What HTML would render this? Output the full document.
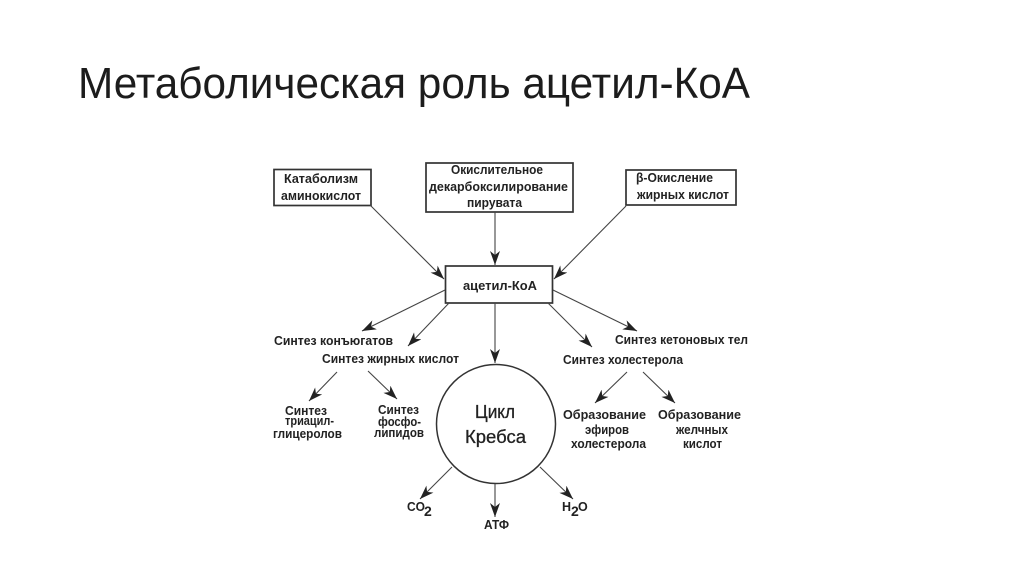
<!DOCTYPE html>
<html><head><meta charset="utf-8"><style>
html,body{margin:0;padding:0;background:#fff;width:1024px;height:574px;overflow:hidden}
svg{display:block}
.t{font-family:"Liberation Sans",sans-serif;font-weight:bold;font-size:12.5px;fill:#222}
.k{font-size:18px;font-weight:normal;stroke:#222;stroke-width:.3px}
line{stroke:#444;stroke-width:1.1}
rect{fill:#fff;stroke:#333;stroke-width:1.7}
</style></head><body>
<svg width="1024" height="574" viewBox="0 0 1024 574">
<defs>
<marker id="a" markerWidth="16" markerHeight="12" refX="14" refY="5" orient="auto" markerUnits="userSpaceOnUse"><path d="M0 0L14 5L0 10L4 5Z" fill="#222"/></marker>
</defs>
<text x="78" y="98" font-family="'Liberation Sans',sans-serif" font-size="44" fill="#1c1c1c" textLength="672" lengthAdjust="spacingAndGlyphs">Метаболическая роль ацетил-КоА</text>
<g style="filter:blur(.35px)">
<rect x="274" y="169.500" width="97" height="36"/>
<rect x="426" y="163" width="147" height="49"/>
<rect x="626" y="170" width="110" height="35"/>
<rect x="445.500" y="266" width="107" height="37"/>
<circle cx="496" cy="424" r="59.500" fill="#fff" stroke="#333" stroke-width="1.500"/>
<line x1="370" y1="205" x2="444" y2="279" marker-end="url(#a)"/>
<line x1="495" y1="212" x2="495" y2="265" marker-end="url(#a)"/>
<line x1="626" y1="206" x2="554" y2="279" marker-end="url(#a)"/>
<line x1="445" y1="290" x2="362" y2="331" marker-end="url(#a)"/>
<line x1="449" y1="303" x2="408" y2="346" marker-end="url(#a)"/>
<line x1="495" y1="303" x2="495" y2="363" marker-end="url(#a)"/>
<line x1="548" y1="303" x2="592" y2="347" marker-end="url(#a)"/>
<line x1="553" y1="290" x2="637" y2="331" marker-end="url(#a)"/>
<line x1="337" y1="372" x2="309" y2="401" marker-end="url(#a)"/>
<line x1="368" y1="371" x2="397" y2="399" marker-end="url(#a)"/>
<line x1="627" y1="372" x2="595" y2="403" marker-end="url(#a)"/>
<line x1="643" y1="372" x2="675" y2="403" marker-end="url(#a)"/>
<line x1="452" y1="467" x2="420" y2="499" marker-end="url(#a)"/>
<line x1="495" y1="484" x2="495" y2="517" marker-end="url(#a)"/>
<line x1="540" y1="467" x2="573" y2="499" marker-end="url(#a)"/>
<g class="t">
<text class="t" lengthAdjust="spacingAndGlyphs" x="284" y="183" textLength="74">Катаболизм</text>
<text class="t" lengthAdjust="spacingAndGlyphs" x="281" y="200" textLength="80">аминокислот</text>
<text class="t" lengthAdjust="spacingAndGlyphs" x="451" y="174" textLength="92">Окислительное</text>
<text class="t" lengthAdjust="spacingAndGlyphs" x="429" y="191" textLength="139">декарбоксилирование</text>
<text class="t" lengthAdjust="spacingAndGlyphs" x="467" y="207" textLength="55">пирувата</text>
<text class="t" lengthAdjust="spacingAndGlyphs" x="636" y="182" textLength="77">β-Окисление</text>
<text class="t" lengthAdjust="spacingAndGlyphs" x="637" y="199" textLength="92">жирных кислот</text>
<text class="t" lengthAdjust="spacingAndGlyphs" x="463" y="290" textLength="74">ацетил-КоА</text>
<text class="t" lengthAdjust="spacingAndGlyphs" x="274" y="345" textLength="119">Синтез конъюгатов</text>
<text class="t" lengthAdjust="spacingAndGlyphs" x="322" y="363" textLength="137">Синтез жирных кислот</text>
<text class="t" lengthAdjust="spacingAndGlyphs" x="615" y="344" textLength="133">Синтез кетоновых тел</text>
<text class="t" lengthAdjust="spacingAndGlyphs" x="563" y="364" textLength="120">Синтез холестерола</text>
<text class="t" lengthAdjust="spacingAndGlyphs" x="285" y="415" textLength="42">Синтез</text>
<text class="t" lengthAdjust="spacingAndGlyphs" x="285" y="425" textLength="49">триацил-</text>
<text class="t" lengthAdjust="spacingAndGlyphs" x="273" y="438" textLength="69">глицеролов</text>
<text class="t" lengthAdjust="spacingAndGlyphs" x="378" y="414" textLength="41">Синтез</text>
<text class="t" lengthAdjust="spacingAndGlyphs" x="378" y="426" textLength="43">фосфо-</text>
<text class="t" lengthAdjust="spacingAndGlyphs" x="374" y="437" textLength="50">липидов</text>
<text class="t" lengthAdjust="spacingAndGlyphs" x="563" y="419" textLength="83">Образование</text>
<text class="t" lengthAdjust="spacingAndGlyphs" x="585" y="434" textLength="44">эфиров</text>
<text class="t" lengthAdjust="spacingAndGlyphs" x="571" y="448" textLength="75">холестерола</text>
<text class="t" lengthAdjust="spacingAndGlyphs" x="658" y="419" textLength="83">Образование</text>
<text class="t" lengthAdjust="spacingAndGlyphs" x="676" y="434" textLength="52">желчных</text>
<text class="t" lengthAdjust="spacingAndGlyphs" x="683" y="448" textLength="39">кислот</text>
<text class="t k" lengthAdjust="spacingAndGlyphs" x="475" y="418" textLength="40">Цикл</text>
<text class="t k" lengthAdjust="spacingAndGlyphs" x="465" y="443" textLength="61">Кребса</text>
<text class="t" lengthAdjust="spacingAndGlyphs" x="407" y="511" textLength="18">CO</text>
<text class="t" x="424" y="516" style="font-size:14px">2</text>
<text class="t" lengthAdjust="spacingAndGlyphs" x="484" y="529" textLength="25">АТФ</text>
<text class="t" x="562" y="511">H</text>
<text class="t" x="571" y="516" style="font-size:14px">2</text>
<text class="t" x="578" y="511">O</text>
</g>
</g>
</svg>
</body></html>
